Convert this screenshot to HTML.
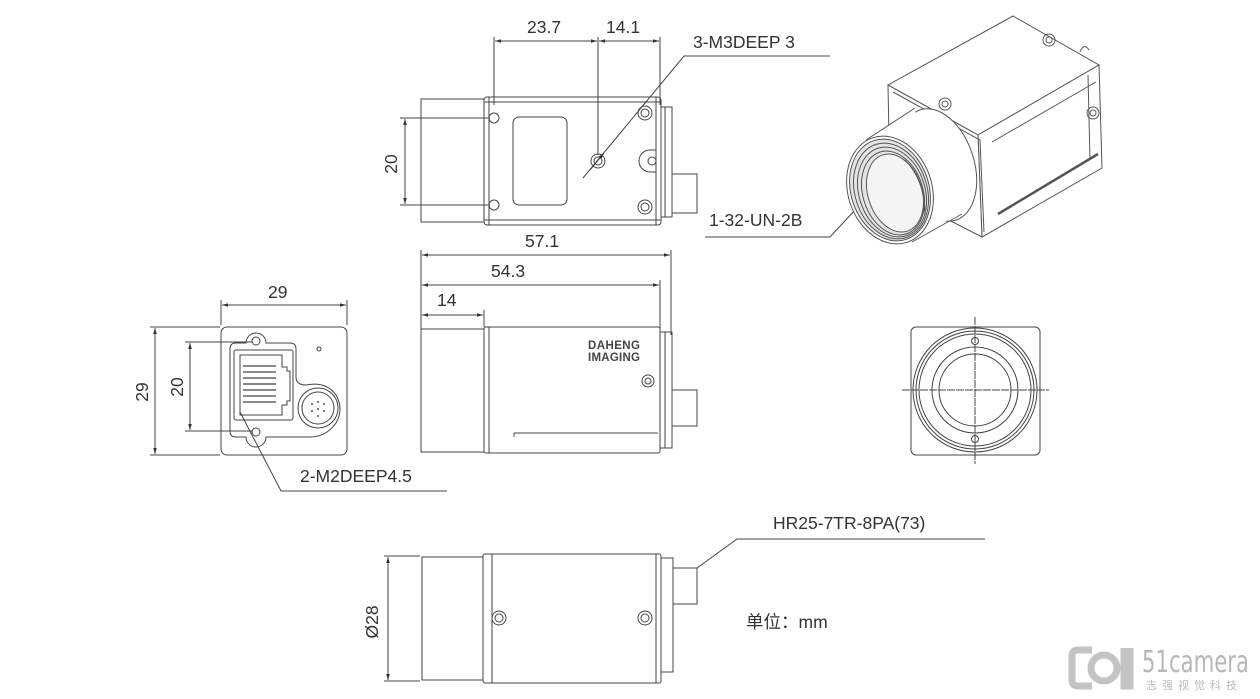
<!DOCTYPE html>
<html><head><meta charset="utf-8"><style>
html,body{margin:0;padding:0;background:#fff;}
svg{display:block;}
text{font-family:"Liberation Sans","Noto Sans CJK SC",sans-serif;fill:#333;}
</style></head><body>
<svg width="1260" height="699" viewBox="0 0 1260 699" xmlns="http://www.w3.org/2000/svg">
<defs>
<marker id="a" viewBox="0 0 10 10" refX="10" refY="5" markerWidth="9" markerHeight="6" orient="auto-start-reverse"><path d="M0,2 L10,5 L0,8 z" fill="#333"/></marker>
</defs>
<g fill="none" stroke="#444" stroke-width="1">

<!-- ===== TOP VIEW ===== -->
<rect x="421" y="99" width="63" height="123" />
<rect x="484" y="97" width="177" height="128" rx="3"/>
<line x1="489" y1="97" x2="489" y2="225"/><line x1="656" y1="97" x2="656" y2="225"/>
<line x1="484" y1="102" x2="661" y2="102"/><line x1="484" y1="220" x2="661" y2="220"/>
<rect x="661" y="107" width="11" height="110"/>
<line x1="665" y1="107" x2="665" y2="217"/>
<rect x="672" y="174" width="25" height="39"/>
<circle cx="494" cy="118" r="5"/><circle cx="494" cy="205" r="5"/>
<circle cx="645" cy="113" r="7"/><circle cx="645" cy="113" r="4"/>
<circle cx="645" cy="207" r="7"/><circle cx="645" cy="207" r="4"/>
<rect x="513" y="117" width="54" height="88" rx="6"/>
<circle cx="598" cy="161" r="7"/><circle cx="598" cy="161" r="4"/>
<path d="M656,150 h-6 a11,11 0 0 0 0,22 h6"/><circle cx="652" cy="161" r="4"/>
<line x1="494" y1="37" x2="494" y2="105"/><line x1="598" y1="37" x2="598" y2="155"/><line x1="660" y1="37" x2="660" y2="105"/>
<line x1="495" y1="41" x2="597" y2="41" marker-start="url(#a)" marker-end="url(#a)"/>
<line x1="599" y1="41" x2="659" y2="41" marker-start="url(#a)" marker-end="url(#a)"/>
<line x1="400" y1="118" x2="490" y2="118"/><line x1="400" y1="205" x2="490" y2="205"/>
<line x1="405" y1="119" x2="405" y2="204" marker-start="url(#a)" marker-end="url(#a)"/>
<polyline points="583,178 684,56 830,56"/>
<line x1="590" y1="170" x2="604" y2="153" marker-end="url(#a)"/>

<polyline points="705,237 830,237 868,196"/>

<line x1="421" y1="250" x2="421" y2="330"/><line x1="671" y1="250" x2="671" y2="335"/>
<line x1="660" y1="280" x2="660" y2="330"/><line x1="484" y1="310" x2="484" y2="327"/>
<line x1="422" y1="255" x2="670" y2="255" marker-start="url(#a)" marker-end="url(#a)"/>
<line x1="422" y1="285" x2="659" y2="285" marker-start="url(#a)" marker-end="url(#a)"/>
<line x1="422" y1="315" x2="483" y2="315" marker-start="url(#a)" marker-end="url(#a)"/>

<!-- ===== SIDE VIEW ===== -->
<rect x="421" y="329" width="63" height="123"/>
<rect x="484" y="327" width="176" height="126" rx="2"/>
<line x1="489" y1="327" x2="489" y2="453"/>
<line x1="514" y1="433" x2="514" y2="437"/><line x1="514" y1="433" x2="658" y2="433"/>
<rect x="660" y="332" width="12" height="116"/>
<line x1="665" y1="332" x2="665" y2="448"/>
<rect x="672" y="390" width="25" height="36"/>
<circle cx="648" cy="381" r="6"/><circle cx="648" cy="381" r="3"/>

<!-- ===== BACK VIEW ===== -->
<rect x="221" y="327" width="126" height="128" rx="6"/>
<path d="M236,343 h10 a10,10 0 0 1 20,0 h24 q6,0 6,6 v28 q0,8 10,8 q20,-4 30,10 q8,14 0,28 q-10,14 -26,14 h-44 a10,10 0 0 1 -20,0 h-10 q-6,0 -6,-6 v-82 q0,-6 6,-6z"/>
<rect x="234" y="350" width="59" height="70" rx="2"/>
<path d="M240,355 h42 v12 h5 v4 h3 v30 h-3 v4 h-5 v10 h-42z"/>
<g stroke-width="1.2"><line x1="243" y1="366" x2="276" y2="366"/><line x1="243" y1="372" x2="276" y2="372"/><line x1="243" y1="378" x2="276" y2="378"/><line x1="243" y1="384" x2="276" y2="384"/><line x1="243" y1="390" x2="276" y2="390"/><line x1="243" y1="396" x2="276" y2="396"/><line x1="243" y1="402" x2="276" y2="402"/></g>
<circle cx="256" cy="341" r="4"/><circle cx="256" cy="432" r="4"/>
<circle cx="318" cy="408" r="20"/><circle cx="318" cy="408" r="16"/>
<g fill="#555" stroke="none"><circle cx="312" cy="404" r="1"/><circle cx="318" cy="402" r="1"/><circle cx="324" cy="404" r="1"/><circle cx="312" cy="411" r="1"/><circle cx="318" cy="409" r="1"/><circle cx="324" cy="411" r="1"/><circle cx="318" cy="416" r="1"/></g>
<circle cx="319" cy="349" r="2"/>
<line x1="221" y1="300" x2="221" y2="325"/><line x1="347" y1="300" x2="347" y2="325"/>
<line x1="222" y1="305" x2="346" y2="305" marker-start="url(#a)" marker-end="url(#a)"/>
<line x1="150" y1="327" x2="220" y2="327"/><line x1="150" y1="455" x2="220" y2="455"/>
<line x1="155" y1="328" x2="155" y2="454" marker-start="url(#a)" marker-end="url(#a)"/>
<line x1="185" y1="342" x2="252" y2="342"/><line x1="185" y1="431" x2="252" y2="431"/>
<line x1="190" y1="343" x2="190" y2="430" marker-start="url(#a)" marker-end="url(#a)"/>
<polyline points="240,412 281,491 447,491"/>

<!-- ===== FRONT VIEW ===== -->
<rect x="911" y="327" width="129" height="128" rx="5"/>
<circle cx="975" cy="390" r="62"/><circle cx="975" cy="390" r="59"/><circle cx="975" cy="390" r="56"/>
<circle cx="975" cy="390" r="43"/><circle cx="975" cy="390" r="36"/>
<circle cx="975" cy="341" r="3.5"/><circle cx="975" cy="439" r="3.5"/>
<line x1="902" y1="390" x2="1049" y2="390" stroke-dasharray="8 1"/>
<line x1="975" y1="317" x2="975" y2="464" stroke-dasharray="8 1"/>

<!-- ===== BOTTOM VIEW ===== -->
<rect x="422" y="557" width="61" height="123"/>
<rect x="483" y="554" width="178" height="129" rx="2"/>
<line x1="492" y1="554" x2="492" y2="683"/><line x1="656" y1="554" x2="656" y2="683"/>
<rect x="661" y="558" width="12" height="114"/>
<rect x="673" y="568" width="24" height="36"/>
<circle cx="499" cy="618" r="7"/><circle cx="499" cy="618" r="4"/>
<circle cx="645" cy="618" r="7"/><circle cx="645" cy="618" r="4"/>
<line x1="384" y1="556" x2="420" y2="556"/><line x1="384" y1="681" x2="420" y2="681"/>
<line x1="388" y1="557" x2="388" y2="680" marker-start="url(#a)" marker-end="url(#a)"/>
<polyline points="697,568 737,539 985,539"/>

<!-- ===== ISOMETRIC ===== -->
<g stroke="#555">
<polygon points="888,85 1013,16 1099,65 978,135" fill="#fff"/>
<polygon points="978,135 1099,65 1102,168 982,237" fill="#fff"/>
<polygon points="888,85 978,135 982,237 890,190" fill="#fff"/>
<polyline points="893,92 980,140 984,232"/>
<line x1="992" y1="142" x2="1096" y2="82"/>
<line x1="998" y1="214" x2="1098" y2="154" stroke-width="2.5"/>
<line x1="1088" y1="75" x2="1090" y2="160"/>
<circle cx="945" cy="104" r="6"/><circle cx="945" cy="104" r="3"/>
<circle cx="1049" cy="40" r="6"/><circle cx="1049" cy="40" r="3"/>
<circle cx="1093" cy="113" r="6"/><circle cx="1093" cy="113" r="3"/>
<path d="M1080,52 q4,-10 9,-2"/>
<!-- lens cylinder -->
<ellipse cx="938" cy="165" rx="36" ry="58" transform="rotate(-18 938 165)" fill="#fff"/>
<polygon points="866,140 914,110 964,210 912,242" fill="#fff" stroke="none"/>
<line x1="866" y1="140" x2="915" y2="108"/>
<line x1="912" y1="242" x2="962" y2="214"/>
<ellipse cx="890" cy="190" rx="42" ry="55" transform="rotate(-18 890 190)" fill="#fff"/>
<ellipse cx="890" cy="190" rx="39" ry="52" transform="rotate(-18 890 190)" fill="#e4e4e4"/>
<ellipse cx="891" cy="191" rx="36" ry="49" transform="rotate(-18 891 191)"/>
<ellipse cx="892" cy="192" rx="33" ry="46" transform="rotate(-18 892 192)"/>
<ellipse cx="893" cy="193" rx="30" ry="43" transform="rotate(-18 893 193)"/>
<ellipse cx="895" cy="193" rx="27" ry="40" transform="rotate(-18 895 193)" fill="#f4f4f4"/>
<path d="M905,160 q20,20 20,55" />
</g>
</g>

<!-- text -->
<g font-size="17.5">
<text x="527" y="33">23.7</text>
<text x="606" y="33">14.1</text>
<text x="693" y="48">3-M3DEEP 3</text>
<text x="709" y="226">1-32-UN-2B</text>
<text x="525" y="247">57.1</text>
<text x="491" y="277">54.3</text>
<text x="437" y="306">14</text>
<text x="268" y="298">29</text>
<text x="300" y="482">2-M2DEEP4.5</text>
<text x="773" y="529">HR25-7TR-8PA(73)</text>
<text x="746" y="628">单位：mm</text>
<text transform="translate(397,164) rotate(-90)" text-anchor="middle">20</text>
<text transform="translate(148,392) rotate(-90)" text-anchor="middle">29</text>
<text transform="translate(183,387) rotate(-90)" text-anchor="middle">20</text>
<text transform="translate(378,622) rotate(-90)" text-anchor="middle">Ø28</text>
</g>
<g font-size="11.5" font-weight="bold"><text x="588" y="349" style="fill:#444" textLength="52">DAHENG</text><text x="588" y="361" style="fill:#444" textLength="52">IMAGING</text></g>

<!-- watermark -->
<g fill="none" stroke="#c4c4c4" stroke-width="7">
<path d="M1092,650 h-14 q-6,0 -6,6 v24 q0,6 6,6 h14"/>
<circle cx="1104" cy="668" r="13"/>
<path d="M1124,648 v38 h6 v-38"/>
</g>
<text x="1142" y="672" font-size="30" style="fill:#b8b8b8;font-family:'DejaVu Sans Condensed','Liberation Sans Narrow',sans-serif" textLength="107" lengthAdjust="spacingAndGlyphs">51camera</text>
<text x="1146" y="689" font-size="11" style="fill:#bbb" letter-spacing="5">志强视觉科技</text>
</svg>
</body></html>
